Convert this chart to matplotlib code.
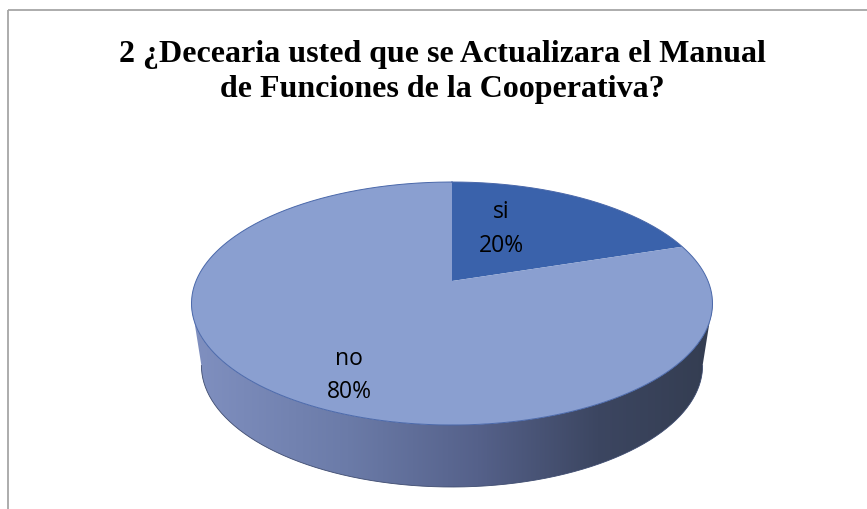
import numpy as np
import matplotlib
matplotlib.use("Agg")
import matplotlib.pyplot as plt
from matplotlib.patches import Polygon, Rectangle
from matplotlib.colors import LinearSegmentedColormap

# ---- data ----
categories = ["si", "no"]
values = [20, 80]
title_lines = ["2 ¿Decearia usted que se Actualizara el Manual",
               "de Funciones de la Cooperativa?"]

# ---- style ----
slice_colors = ["#3A62AB", "#8A9FD0"]
edge_color = "#4A68AA"

W, H = 867, 510
fig = plt.figure(figsize=(W / 100, H / 100), dpi=100)
ax = fig.add_axes([0, 0, 1, 1])
ax.set_xlim(0, W)
ax.set_ylim(H, 0)
ax.axis("off")

# chart frame
ax.add_patch(Rectangle((8, 11), 900, 600, fill=False, edgecolor="#A6A6A6", lw=1.3, zorder=0))

# perspective projection of unit disk (u right, v toward viewer)
CX, D = 452.0, 256.0
A, B, C = 65.1, 282.0, -0.1852
DEPTH = 62.0
BOT_SCALE = 0.962

def proj(u, v):
    den = 1 + C * v
    return CX + D * u / den, (A * v + B) / den

# side: visible front arc between silhouette points
vs = -C
phis = np.linspace(np.pi - np.arcsin(vs), np.arcsin(vs), 240)
xs, ys = proj(np.cos(phis), np.sin(phis))
bx = CX + BOT_SCALE * (xs - CX)
by = ys + DEPTH
side_x = np.concatenate([xs, bx[::-1]])
side_y = np.concatenate([ys, by[::-1]])
side_poly = Polygon(np.column_stack([side_x, side_y]), closed=True, facecolor="none",
                    edgecolor="none", zorder=1)
ax.add_patch(side_poly)
cmap = LinearSegmentedColormap.from_list(
    "side", [(0.0, "#8090C0"), (0.3, "#6B7BA8"), (0.55, "#55618A"),
             (0.78, "#3C4661"), (1.0, "#343D51")])
grad = np.linspace(0, 1, 256).reshape(1, -1)
im = ax.imshow(grad, cmap=cmap, extent=[xs.min(), xs.max(), by.max() + 5, ys.min() - 5],
               aspect="auto", zorder=1)
im.set_clip_path(side_poly)
ax.plot(bx, by, color="#3F4C70", lw=0.6, zorder=1.5)

# top face wedges: angles clockwise from top
total = sum(values)
cx0, cy0 = proj(0.0, 0.0)
start = 0.0
for val, col in zip(values, slice_colors):
    ext = 2 * np.pi * val / total
    th = np.linspace(start, start + ext, 300)
    px, py = proj(np.sin(th), -np.cos(th))
    pts = np.column_stack([np.concatenate([[cx0], px]), np.concatenate([[cy0], py])])
    ax.add_patch(Polygon(pts, closed=True, facecolor=col, edgecolor="none", zorder=2))
    start += ext

# outline of top ellipse
th = np.linspace(0, 2 * np.pi, 400)
ox, oy = proj(np.sin(th), -np.cos(th))
ax.plot(ox, oy, color=edge_color, lw=0.7, zorder=3)

# labels (name line and percent line baselines)
label_pos = [(501, 218, 252), (349, 365, 398)]
lab_font = ["Open Sans", "DejaVu Sans"]
for cat, val, (lx, y1, y2) in zip(categories, values, label_pos):
    ax.text(lx, y1, cat, ha="center", va="baseline", fontsize=16.5,
            family=lab_font, color="black", zorder=4)
    ax.text(lx, y2, f"{val}%", ha="center", va="baseline", fontsize=16.5,
            family=lab_font, color="black", zorder=4)

title_font = ["Liberation Serif", "DejaVu Serif"]
for line, yb in zip(title_lines, [62, 97]):
    ax.text(442, yb, line, ha="center", va="baseline", fontsize=23, fontweight="bold",
            family=title_font, color="black", zorder=4)

fig.savefig("out.png", dpi=100)
